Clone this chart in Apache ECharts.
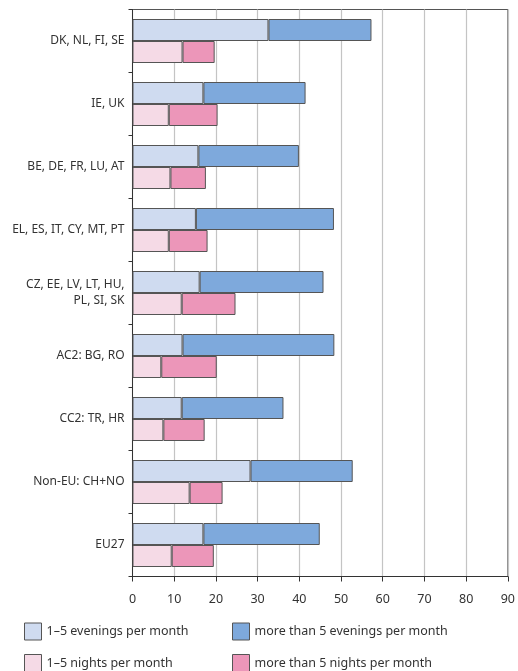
<!DOCTYPE html>
<html>
<head>
<meta charset="utf-8">
<script src="https://cdn.jsdelivr.net/npm/echarts@6/dist/echarts.min.js"></script>
<style>
html,body{margin:0;padding:0;background:#fff;}
#chart{width:518px;height:671px;}
</style>
</head>
<body>
<div id="chart"></div>
<script>
var categories = [
  'DK, NL, FI, SE',
  'IE, UK',
  'BE, DE, FR, LU, AT',
  'EL, ES, IT, CY, MT, PT',
  'CZ, EE, LV, LT, HU,\nPL, SI, SK',
  'AC2: BG, RO',
  'CC2: TR, HR',
  'Non-EU: CH+NO',
  'EU27'
];
// values (percent)
var evenings1to5   = [32.6, 17.0, 15.8, 15.2, 16.1, 12.0, 11.8, 28.3, 17.0];
var eveningsTotal  = [57.3, 41.5, 39.9, 48.3, 45.8, 48.4, 36.2, 52.8, 44.9];
var nights1to5     = [12.0, 8.7, 9.1, 8.7, 11.8, 6.9, 7.4, 13.7, 9.4];
var nightsTotal    = [19.7, 20.4, 17.6, 18.0, 24.7, 20.2, 17.3, 21.6, 19.5];
var eveningsMore5  = eveningsTotal.map(function(v, i){ return +(v - evenings1to5[i]).toFixed(1); });
var nightsMore5    = nightsTotal.map(function(v, i){ return +(v - nights1to5[i]).toFixed(1); });
var xTicks = [0, 10, 20, 30, 40, 50, 60, 70, 80, 90];

var names = ['1–5 evenings per month', 'more than 5 evenings per month', '1–5 nights per month', 'more than 5 nights per month'];
var colors = ['#cfdbf0', '#7ea9dc', '#f5dae6', '#ec96b9'];
var FONT = 'Noto Sans';

function bar(i, data, stack) {
  return {
    name: names[i], type: 'bar', stack: stack, data: data,
    barWidth: 22, barGap: '0%',
    itemStyle: { color: colors[i], borderColor: '#555', borderWidth: 1 },
    emphasis: { disabled: true }
  };
}

function legendItem(i, left, top) {
  return {
    data: [names[i]], left: left, top: top, orient: 'horizontal',
    itemWidth: 17, itemHeight: 17, itemGap: 0, padding: 0,
    icon: 'rect', selectedMode: false,
    itemStyle: { borderColor: '#555', borderWidth: 1 },
    textStyle: { fontFamily: FONT, fontSize: 12.5, color: '#333', padding: [0, 0, 0, 0] }
  };
}

var chart = echarts.init(document.getElementById('chart'), null, { renderer: 'canvas' });
chart.setOption({
  animation: false,
  color: colors,
  grid: { left: 132.5, right: 8.5, top: 9.5, bottom: 94.5, show: true, borderColor: '#555', borderWidth: 1 },
  xAxis: {
    type: 'value', min: 0, max: 90, interval: 10,
    axisLine: { show: true, lineStyle: { color: '#333', width: 1 } },
    axisTick: { show: true, length: 5, lineStyle: { color: '#333' } },
    axisLabel: { fontFamily: FONT, fontSize: 12.5, color: '#333', margin: 16,
      formatter: function(v){ return xTicks.indexOf(v) >= 0 ? String(v) : ''; } },
    splitLine: { show: true, lineStyle: { color: '#c4c4c4', width: 1.2 } }
  },
  yAxis: {
    type: 'category', data: categories, inverse: true,
    axisLine: { show: true, lineStyle: { color: '#333', width: 1 } },
    axisTick: { show: true, length: 4, lineStyle: { color: '#333' } },
    axisLabel: { fontFamily: FONT, fontSize: 12, color: '#333', margin: 8, lineHeight: 16, align: 'right' }
  },
  legend: [
    legendItem(0, 24, 622.5),
    legendItem(1, 232, 622.5),
    legendItem(2, 24, 654),
    legendItem(3, 232, 654)
  ],
  series: [
    bar(0, evenings1to5, 'evenings'),
    bar(1, eveningsMore5, 'evenings'),
    bar(2, nights1to5, 'nights'),
    bar(3, nightsMore5, 'nights')
  ]
});
</script>
</body>
</html>
